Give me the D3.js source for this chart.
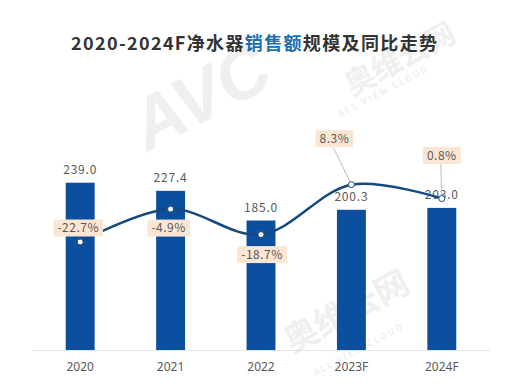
<!DOCTYPE html>
<html>
<head>
<meta charset="utf-8">
<script src="https://cdn.jsdelivr.net/npm/d3@7"></script>
<style>
  body { margin: 0; background: #fff; }
  svg { display: block; font-family: "Noto Sans CJK SC", "Noto Sans", sans-serif; }
</style>
</head>
<body>
<div id="chart"></div>
<script>
const years = ["2020", "2021", "2022", "2023F", "2024F"];
const sales = [239.0, 227.4, 185.0, 200.3, 203.0]; // 亿元
const growth = [-22.7, -4.9, -18.7, 8.3, 0.8]; // %

const width = 508, height = 388;

const svg = d3.select("#chart").append("svg")
  .attr("width", width)
  .attr("height", height);

/* watermark */
const wm = svg.append("g").attr("fill", "#efefef").attr("font-weight", "bold");
wm.append("text").attr("transform", "translate(212,118) rotate(-28)")
  .attr("text-anchor", "middle").attr("font-size", 72).attr("font-family", "Liberation Sans")
  .attr("font-style", "italic").text("AVC");
wm.append("text").attr("transform", "translate(405,68) rotate(-28)")
  .attr("text-anchor", "middle").attr("font-size", 30).text("奥维云网");
wm.append("text").attr("transform", "translate(385,94) rotate(-28)")
  .attr("text-anchor", "middle").attr("font-size", 9).attr("letter-spacing", 2).text("ALL VIEW CLOUD");
wm.append("text").attr("transform", "translate(352,322) rotate(-28)")
  .attr("text-anchor", "middle").attr("font-size", 34).text("奥维云网");
wm.append("text").attr("transform", "translate(360,352) rotate(-28)")
  .attr("text-anchor", "middle").attr("font-size", 9).attr("letter-spacing", 2).text("ALL VIEW CLOUD");

/* title */
const title = svg.append("text")
  .attr("x", width / 2)
  .attr("y", 50)
  .attr("text-anchor", "middle")
  .attr("font-size", 18)
  .attr("font-weight", "bold")
  .attr("fill", "#333")
  .attr("textLength", 366)
  .attr("lengthAdjust", "spacing");
title.append("tspan").text("2020-2024F净水器");
title.append("tspan").attr("fill", "#1a6db3").text("销售额");
title.append("tspan").text("规模及同比走势");

/* scales */
const x = d3.scaleBand()
  .domain(years)
  .range([35, 487])
  .paddingInner(0.68)
  .paddingOuter(0.34);

const y = d3.scaleLinear().domain([0, 500]).range([350, 0]);
const yRate = d3.scaleLinear().domain([-50, 50]).range([292.5, 107.5]);

/* axis */
const xAxis = d3.axisBottom(x).tickSize(0).tickPadding(12);
const ax = svg.append("g").attr("transform", "translate(0,350)").call(xAxis);
ax.select(".domain").attr("stroke", "#e3e3e3").attr("stroke-width", 1)
  .attr("d", "M33,0.5H490");
ax.selectAll("text").attr("font-size", 12).attr("fill", "#595959")
  .attr("font-family", "Noto Sans, sans-serif");

/* bars */
const data = years.map((yr, i) => ({ year: yr, value: sales[i], rate: growth[i] }));

svg.selectAll(".bar")
  .data(data)
  .join("rect")
  .attr("class", "bar")
  .attr("x", d => x(d.year))
  .attr("width", x.bandwidth())
  .attr("y", d => y(d.value))
  .attr("height", d => y(0) - y(d.value))
  .attr("fill", "#0b4f9e");

svg.selectAll(".val")
  .data(data)
  .join("text")
  .attr("class", "val")
  .attr("x", d => x(d.year) + x.bandwidth() / 2)
  .attr("y", d => y(d.value) - 13)
  .attr("dy", "0.35em")
  .attr("text-anchor", "middle")
  .attr("font-size", 12)
  .attr("letter-spacing", 0.8)
  .attr("fill", "#595959")
  .text(d => d.value.toFixed(1));

/* growth line */
const cx = d => x(d.year) + x.bandwidth() / 2;
const line = d3.line()
  .x(cx)
  .y(d => yRate(d.rate))
  .curve(d3.curveCatmullRom.alpha(0.5));

// label offsets from the point: [dx, dy]
const offsets = [[-2, -14], [-2, 19], [1, 20], [-17, -46], [0, -43]];

// leader lines for the callout labels
svg.selectAll(".leader")
  .data(data.filter((d, i) => Math.abs(offsets[i][1]) > 30))
  .join("line")
  .attr("class", "leader")
  .attr("x1", cx)
  .attr("y1", d => yRate(d.rate))
  .attr("x2", d => cx(d) + offsets[years.indexOf(d.year)][0] - 1)
  .attr("y2", d => yRate(d.rate) + offsets[years.indexOf(d.year)][1] + 9)
  .attr("stroke", "#bdbdbd")
  .attr("stroke-width", 1);

svg.append("path")
  .datum(data)
  .attr("d", line)
  .attr("fill", "none")
  .attr("stroke", "#14497e")
  .attr("stroke-width", 2.5);

svg.selectAll(".dot")
  .data(data)
  .join("circle")
  .attr("class", "dot")
  .attr("cx", cx)
  .attr("cy", d => yRate(d.rate))
  .attr("r", 3)
  .attr("fill", "#fff")
  .attr("stroke", "#14497e")
  .attr("stroke-width", 1);

const labels = svg.selectAll(".rate")
  .data(data)
  .join("g")
  .attr("class", "rate")
  .attr("transform", (d, i) => `translate(${cx(d) + offsets[i][0]},${yRate(d.rate) + offsets[i][1]})`);

labels.append("text")
  .attr("text-anchor", "middle")
  .attr("dy", "0.35em")
  .attr("font-size", 12)
  .attr("letter-spacing", 0.5)
  .attr("fill", "#595959")
  .text(d => d.rate.toFixed(1) + "%");

labels.each(function () {
  const g = d3.select(this);
  const b = g.select("text").node().getBBox();
  g.insert("rect", "text")
    .attr("x", b.x - 4)
    .attr("y", -8.5)
    .attr("width", b.width + 8)
    .attr("height", 17)
    .attr("fill", "#fae6d2");
});
</script>
</body>
</html>
